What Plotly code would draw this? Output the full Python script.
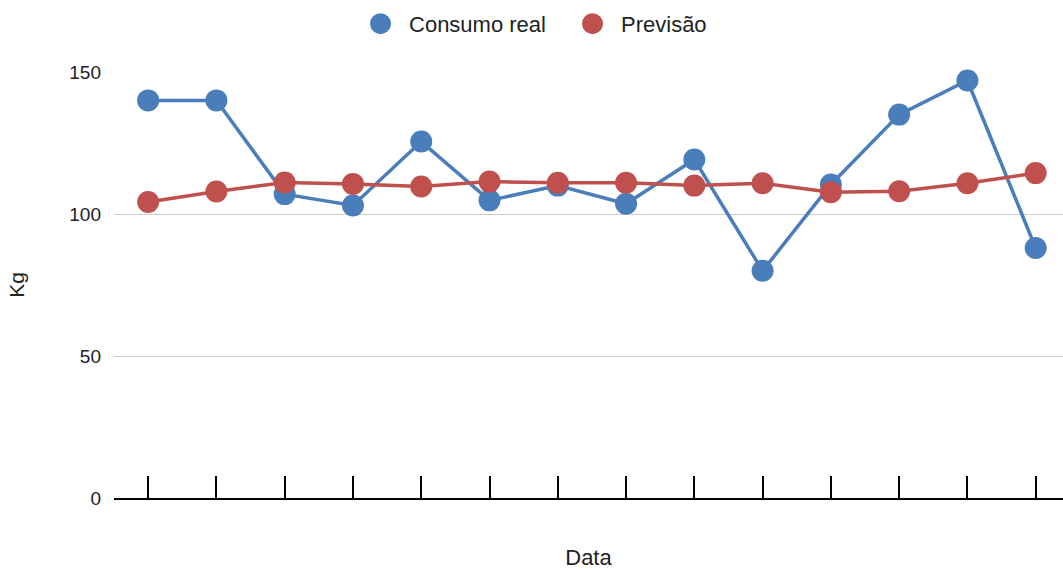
import plotly.graph_objects as go

# Observation periods along the x axis (labels are not shown on the chart)
periodos = [f"P{i}" for i in range(1, 15)]

# Actual consumption (kg) and forecast (kg)
consumo_real = [140, 140, 107, 103, 125.5, 104.8, 110, 103.6, 119.2, 80, 110.4, 135, 147, 88]
previsao = [104.2, 107.9, 111.1, 110.6, 109.7, 111.4, 111, 111, 110, 110.8, 107.7, 108, 110.8, 114.4]

cor_real = "#4a7ebb"
cor_prev = "#c0504d"
fonte = "Liberation Sans, Arial, sans-serif"

fig = go.Figure()

for nome, valores, cor in [("Consumo real", consumo_real, cor_real),
                           ("Previsão", previsao, cor_prev)]:
    fig.add_trace(go.Scatter(
        x=periodos, y=valores, mode="lines+markers", name=nome,
        line=dict(color=cor, width=3.5),
        marker=dict(color=cor, size=22),
        cliponaxis=False, showlegend=False,
    ))

# Legend entries drawn as plain circles
for nome, cor in [("Consumo real", cor_real), ("Previsão", cor_prev)]:
    fig.add_trace(go.Scatter(
        x=[None], y=[None], mode="markers", name=nome,
        marker=dict(color=cor, size=22, line=dict(color=cor, width=6)),
        showlegend=True,
    ))

fig.update_layout(
    width=1063, height=570,
    margin=dict(l=114, r=0, t=72, b=72),
    paper_bgcolor="white", plot_bgcolor="white",
    font=dict(family=fonte, size=18, color="#222222"),
    legend=dict(
        orientation="h", x=0.2508, xanchor="left",
        yref="container", y=0.995, yanchor="top",
        font=dict(size=22, color="#222222"),
        itemsizing="trace", itemwidth=47,
        entrywidth=150, entrywidthmode="pixels",
    ),
    showlegend=True,
)

fig.update_xaxes(
    type="category", categoryorder="array", categoryarray=periodos,
    range=[-0.5, 13.4],
    showticklabels=False, showgrid=False,
    ticks="inside", ticklen=22, tickwidth=2, tickcolor="black",
    showline=True, linecolor="black", linewidth=2,
    title=dict(text="Data", font=dict(size=22), standoff=52),
)

fig.update_yaxes(
    range=[0, 150], tickvals=[0, 50, 100, 150],
    showgrid=True, gridcolor="#cccccc", gridwidth=1.3,
    zeroline=False, ticks="", ticklabelstandoff=12,
    tickfont=dict(size=19),
    title=dict(text="Kg", font=dict(size=21), standoff=38),
)

fig.write_html("out.html")
